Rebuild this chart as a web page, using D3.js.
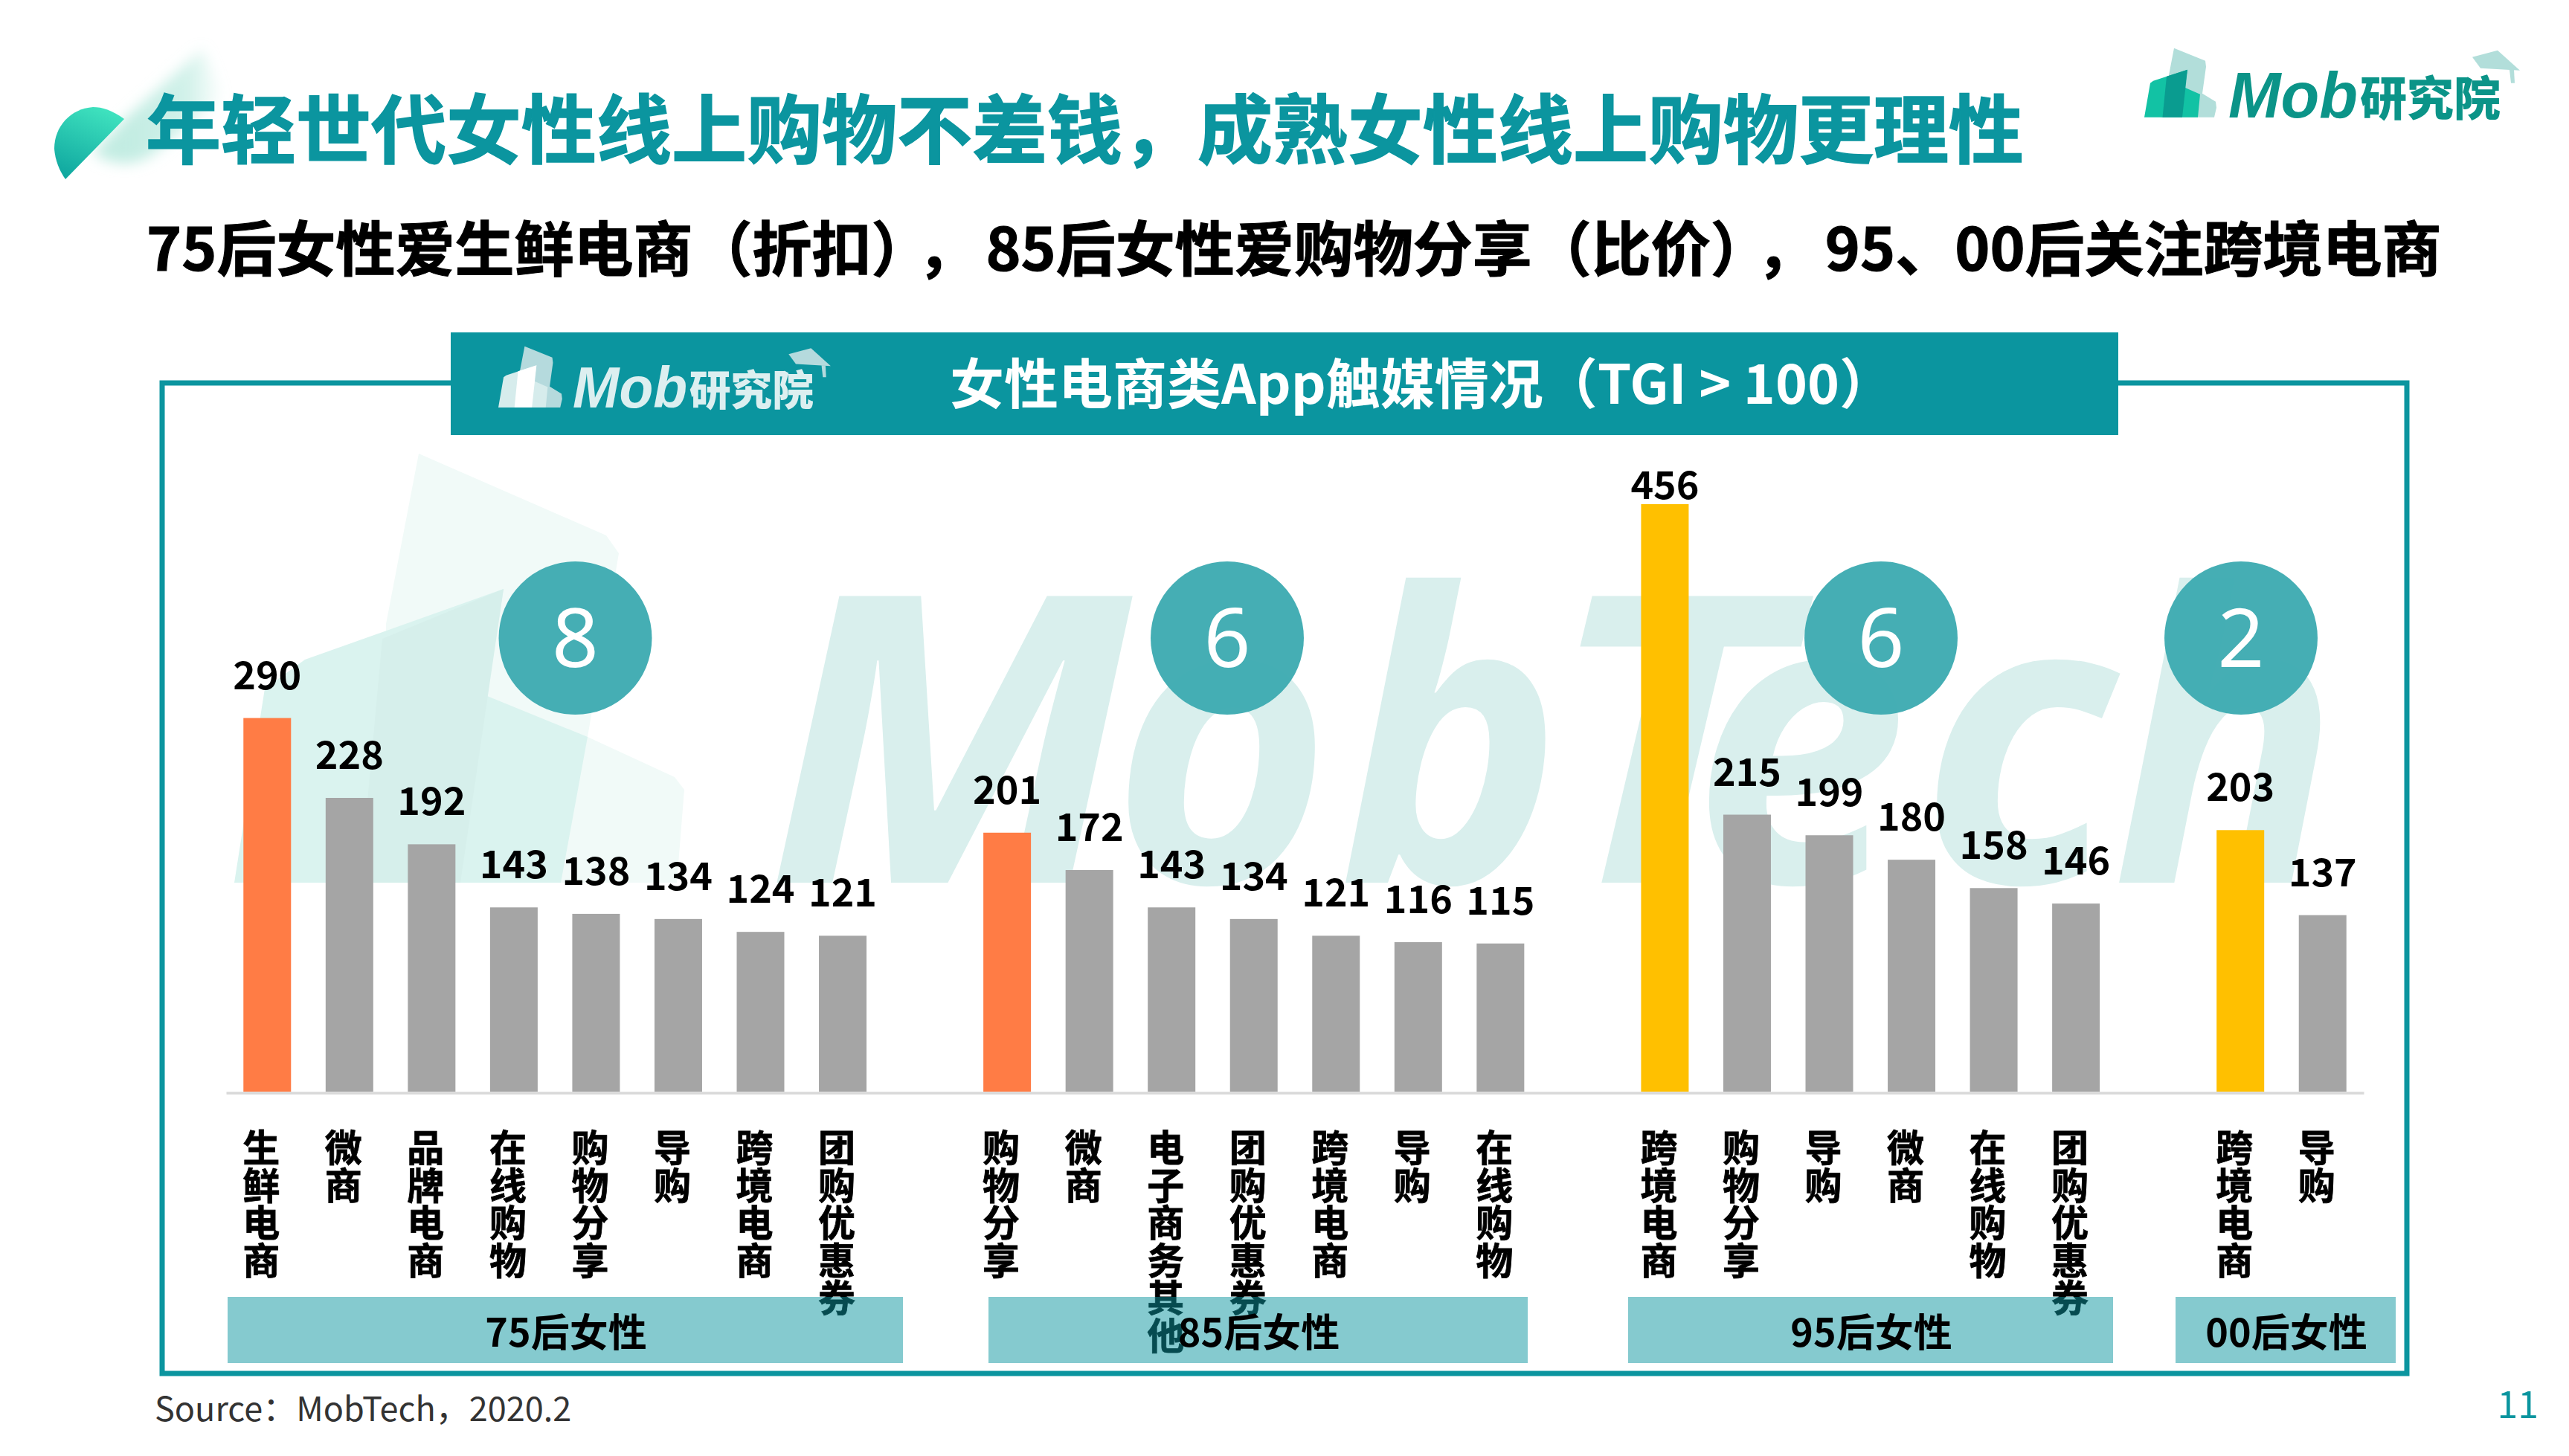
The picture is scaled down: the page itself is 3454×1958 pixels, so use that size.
<!DOCTYPE html>
<html>
<head>
<meta charset="utf-8">
<script src="https://cdn.jsdelivr.net/npm/d3@7"></script>
<style>
  html, body { margin: 0; background: #fff; overflow: hidden; }
  text { font-family: "Noto Sans CJK SC", sans-serif; }
</style>
</head>
<body>
<div id="chart"></div>
<script>
const cohorts = ["75后女性", "85后女性", "95后女性", "00后女性"]
const apps75 = ["生鲜电商", "微商", "品牌电商", "在线购物", "购物分享", "导购", "跨境电商", "团购优惠券"]
const tgi75 = [290, 228, 192, 143, 138, 134, 124, 121]
const apps85 = ["购物分享", "微商", "电子商务其他", "团购优惠券", "跨境电商", "导购", "在线购物"]
const tgi85 = [201, 172, 143, 134, 121, 116, 115]
const apps95 = ["跨境电商", "购物分享", "导购", "微商", "在线购物", "团购优惠券"]
const tgi95 = [456, 215, 199, 180, 158, 146]
const apps00 = ["跨境电商", "导购"]
const tgi00 = [203, 137]
const appCounts = [8, 6, 6, 2]
const subtitleParts = ["75后女性爱生鲜电商（折扣）", "，", "85后女性爱购物分享（比价）", "，", "95、00后关注跨境电商"]
const watermarkLetters = ["M", "o", "b", "T", "e", "c", "h"]

const teal = "#0B959F"
const barColors = { "75后女性": "#FF7C45", "85后女性": "#FF7C45", "95后女性": "#FFC000", "00后女性": "#FFC000" }

// one blank slot between the cohorts
const appLists = [apps75, apps85, apps95, apps00]
const tgiLists = [tgi75, tgi85, tgi95, tgi00]
const rows = []
let slot = 0
cohorts.forEach((c, i) => {
    appLists[i].forEach((a, j) => {
        rows.push({ cohort: c, app: a, tgi: tgiLists[i][j], slot: slot, first: j == 0 })
        slot++
    })
    slot++
})

const svg = d3.select("#chart").append("svg")
    .attr("width", 3454)
    .attr("height", 1958)
    .style("display", "block")

const x = d3.scaleBand()
    .domain(d3.range(26))
    .range([304, 3178])
    .paddingInner(1 - 64 / 110.54)
    .paddingOuter((1 - 64 / 110.54) / 2)
const y = d3.scaleLinear().domain([0, 456]).range([1468, 678])

main()

function main() {
    drawHeader()
    drawWatermark()
    drawFrame()
    drawBars()
    drawCategoryLabels()
    drawCohortBands()
    drawBadges()
    drawFooter()
}

function poly(g, pts, fill) {
    return g.append("polygon")
        .attr("points", pts.map(p => p.join(",")).join(" "))
        .attr("fill", fill)
}

function drawLogo(px, py, k, c) {
    const g = svg.append("g").attr("transform", `translate(${px},${py}) scale(${k})`)
    poly(g, [[40, -93], [82, -76], [83, -68], [78, -32], [96, -21], [97, -13], [94, 0], [22, 0]], c.back)
    poly(g, [[0, 0], [8, -46], [12, -49], [58, -64], [54.5, -40], [75, -31], [72, 0]], c.front)
    poly(g, [[24.5, 0], [30, -55], [58, -64], [51, 0]], c.strip)
    g.append("text").text("Mob")
        .attr("x", 113).attr("y", 0)
        .attr("textLength", 174).attr("lengthAdjust", "spacingAndGlyphs")
        .style("font-family", '"Liberation Sans"').style("font-style", "italic").style("font-weight", 700)
        .style("font-size", "88px").attr("fill", c.text)
    g.append("text").text("研究院")
        .attr("x", 290).attr("y", -3)
        .style("font-weight", 900).style("font-size", "63px").attr("fill", c.text)
    poly(g, [[441, -81], [475, -90], [505, -63], [452, -66]], c.back)
    poly(g, [[491, -64], [497, -64], [498, -46], [493, -46]], c.back)
}

function drawHeader() {
    const defs = svg.append("defs")
    const leaf = defs.append("linearGradient").attr("id", "leaf")
        .attr("x1", 0.7).attr("y1", 0).attr("x2", 0.3).attr("y2", 1)
    leaf.append("stop").attr("offset", 0).attr("stop-color", "#40E3BF")
    leaf.append("stop").attr("offset", 1).attr("stop-color", "#10A8A0")
    const beam = defs.append("linearGradient").attr("id", "beam")
        .attr("x1", 0.3).attr("y1", 0.6).attr("x2", 1).attr("y2", 0.6)
    beam.append("stop").attr("offset", 0).attr("stop-color", "#BDEBE0").attr("stop-opacity", 0.9)
    beam.append("stop").attr("offset", 0.6).attr("stop-color", "#BDEBE0").attr("stop-opacity", 0.7)
    beam.append("stop").attr("offset", 1).attr("stop-color", "#BDEBE0").attr("stop-opacity", 0)
    defs.append("filter").attr("id", "soft")
        .attr("x", "-30%").attr("y", "-30%").attr("width", "160%").attr("height", "160%")
        .append("feGaussianBlur").attr("stdDeviation", 9)

    svg.append("path")
        .attr("d", "M272 66 L168 160 L125 205 C150 225 190 225 215 200 L300 130 Z")
        .attr("fill", "url(#beam)")
        .attr("filter", "url(#soft)")
    svg.append("path")
        .attr("d", "M167 160 C150 148 138 144 125 144 C95 146 73 170 73 200 C74 215 80 230 88 241 Z")
        .attr("fill", "url(#leaf)")

    svg.append("text").text("年轻世代女性线上购物不差钱，成熟女性线上购物更理性")
        .attr("x", 196).attr("y", 212)
        .style("font-weight", 700).style("font-size", "101px").attr("fill", teal)
        .attr("stroke", teal).attr("stroke-width", 1.5)
    // the commas sit in wider gaps than the font gives them
    const sub = svg.append("text")
        .attr("x", 197).attr("y", 364)
        .style("font-weight", 700).style("font-size", "80px").attr("fill", "#000")
        .attr("stroke", "#000").attr("stroke-width", 1.2)
    sub.selectAll("tspan")
        .data(subtitleParts)
        .join("tspan")
            .text(d => d)
            .attr("dx", (d, i) => i == 0 ? 0 : (i % 2 ? 22 : 12))

    drawLogo(2883, 157.7, 1, { back: "#B2DEDA", front: "#12C2A4", strip: "#0A9C90", text: "#0B9488" })
}

function drawWatermark() {
    const g = svg.append("g")
    poly(g, [[563, 610], [815, 720], [832, 744], [790, 991], [907, 1045], [920, 1062], [910, 1187], [519, 1187], [519, 839]], "#F1FAF8")
    poly(g, [[315, 1187], [356, 926], [410, 887], [677, 792], [655, 936], [790, 991], [754, 1187]], "#DAF3EF")
    poly(g, [[677, 792], [619, 1187], [484, 1187], [514, 859]], "#D6EFEB")
    // letters placed one by one, the original lettering is wider in the M
    const letterX = [1030, 1495, 1800, 2075, 2275, 2580, 2840]
    const letterW = [490, 295, 300, 320, 290, 265, 305]
    g.selectAll("text")
        .data(watermarkLetters)
        .join("text")
            .text(d => d)
            .attr("x", (d, i) => letterX[i]).attr("y", 1187)
            .attr("textLength", (d, i) => letterW[i]).attr("lengthAdjust", "spacingAndGlyphs")
            .style("font-family", '"Open Sans"').style("font-style", "italic").style("font-weight", 700)
            .style("font-size", "540px").attr("fill", "#D9EFED")
}

function drawFrame() {
    svg.append("rect")
        .attr("x", 218).attr("y", 515).attr("width", 3018).attr("height", 1332)
        .attr("fill", "none").attr("stroke", teal).attr("stroke-width", 7)
    svg.append("rect")
        .attr("x", 606).attr("y", 447).attr("width", 2242).attr("height", 138)
        .attr("fill", teal)
    drawLogo(670, 548, 0.885, { back: "#B5DADD", front: "#D6ECEC", strip: "#FFFFFF", text: "#DCEFF0" })
    svg.append("text").text("女性电商类App触媒情况（TGI > 100）")
        .attr("x", 1277).attr("y", 543)
        .style("font-weight", 700).style("font-size", "73px").attr("fill", "#fff")
}

function drawBars() {
    const axis = d3.axisBottom(x).tickValues([]).tickSizeOuter(0)
    const ag = svg.append("g")
        .attr("transform", `translate(0,${y(0) + 1.5})`)
        .call(axis)
    ag.select(".domain").attr("stroke", "#D9D9D9").attr("stroke-width", 3.5)

    svg.append("g").selectAll("rect")
        .data(rows)
        .join("rect")
            .attr("x", d => x(d.slot))
            .attr("y", d => y(d.tgi))
            .attr("width", x.bandwidth())
            .attr("height", d => y(0) - y(d.tgi))
            .attr("fill", d => d.first ? barColors[d.cohort] : "#A5A5A5")

    // the tallest label is pushed down against its bar
    svg.append("g").selectAll("text")
        .data(rows)
        .join("text")
            .text(d => d.tgi)
            .attr("x", d => x(d.slot) + x.bandwidth() / 2)
            .attr("y", d => Math.max(y(d.tgi) - 39, 671))
            .attr("text-anchor", "middle")
            .style("font-weight", 700).style("font-size", "52px").attr("fill", "#000")
}

function drawCategoryLabels() {
    const labels = svg.append("g").selectAll("text")
        .data(rows)
        .join("text")
            .attr("text-anchor", "middle")
            .style("font-weight", 700).style("font-size", "50px").attr("fill", "#000")
            .attr("stroke", "#000").attr("stroke-width", 0.8)
    labels.selectAll("tspan")
        .data(d => Array.from(d.app).map((ch, i) => ({ ch: ch, i: i, slot: d.slot })))
        .join("tspan")
            .text(d => d.ch)
            .attr("x", d => x(d.slot) + x.bandwidth() / 2 - 8)
            .attr("y", d => 1562 + d.i * 50.5)
}

function drawCohortBands() {
    const bandX = [[306, 1214], [1329, 2054], [2189, 2841], [2925, 3221]]
    const g = svg.append("g").selectAll("g")
        .data(cohorts)
        .join("g")
    g.append("rect")
        .attr("x", (d, i) => bandX[i][0])
        .attr("y", 1744)
        .attr("width", (d, i) => bandX[i][1] - bandX[i][0])
        .attr("height", 89)
        .attr("fill", teal)
        .attr("fill-opacity", 0.5)
    g.append("text").text(d => d)
        .attr("x", (d, i) => (bandX[i][0] + bandX[i][1]) / 2 + 1)
        .attr("y", 1811)
        .attr("text-anchor", "middle")
        .style("font-weight", 700).style("font-size", "52px").attr("fill", "#000")
}

function drawBadges() {
    const badgeX = [773.5, 1650, 2529, 3013]
    const g = svg.append("g").selectAll("g")
        .data(appCounts)
        .join("g")
            .attr("transform", (d, i) => `translate(${badgeX[i]},858)`)
    g.append("circle")
        .attr("r", 103)
        .attr("fill", "#3FABB2")
        .attr("fill-opacity", 0.97)
    g.append("text").text(d => d)
        .attr("y", 39)
        .attr("text-anchor", "middle")
        .style("font-family", '"Noto Sans"')
        .style("font-size", "110px").attr("fill", "#fff")
}

function drawFooter() {
    svg.append("text").text("Source：MobTech，2020.2")
        .attr("x", 208).attr("y", 1911)
        .style("font-size", "45px").attr("fill", "#333")
    svg.append("text").text("11")
        .attr("x", 3413).attr("y", 1907)
        .attr("text-anchor", "end")
        .style("font-size", "50px").attr("fill", teal)
}
</script>
</body>
</html>
